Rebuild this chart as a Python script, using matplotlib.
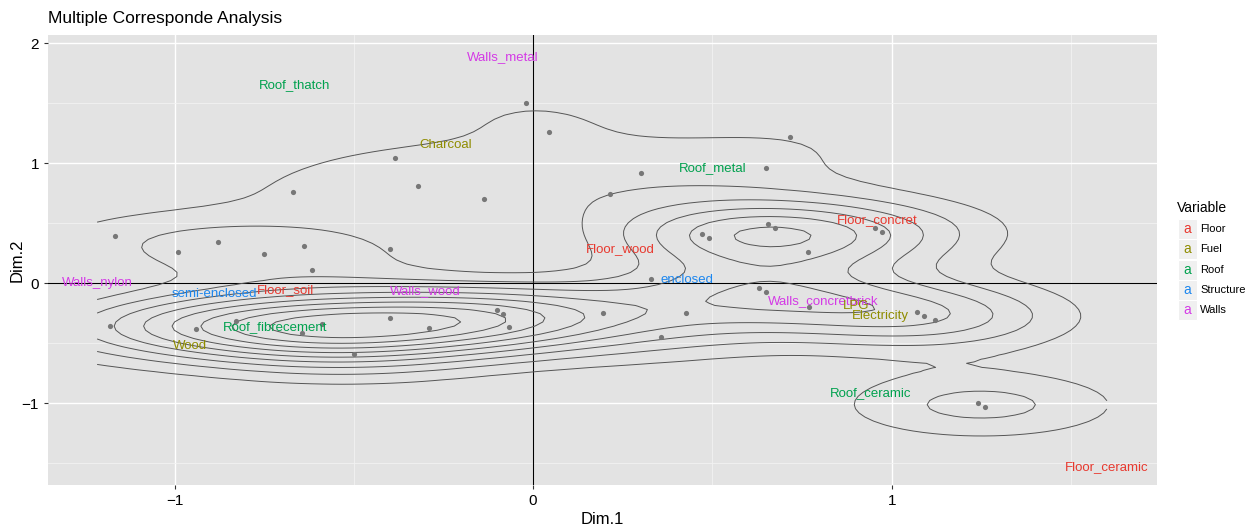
import matplotlib

matplotlib.use("Agg")

import matplotlib.pyplot as plt
import numpy as np
from matplotlib.patches import Rectangle

plt.rcParams["font.family"] = ["Liberation Sans", "DejaVu Sans"]

# individuals (MCA row coordinates); several respondents share a profile,
# so ind_count gives the estimated number stacked on each dot
ind_dim1 = [-0.02, 0.045, -0.385, -0.32, -0.67, -0.137, 0.30, 0.215, 0.65, 0.717,
            -1.166, -0.99, -0.88, -0.75, -0.64, -0.617, -0.40,
            0.47, 0.49, 0.656, 0.675, 0.767, 0.954, 0.973,
            0.33, 0.63, 0.65, 0.77, 1.07, 1.09, 1.12,
            -1.18, -0.94, -0.83, -0.645, -0.59, -0.40, -0.29, -0.50,
            -0.10, -0.084, -0.067, 0.195, 0.357, 0.427, 1.24, 1.26]
ind_dim2 = [1.50, 1.26, 1.04, 0.81, 0.76, 0.70, 0.92, 0.74, 0.96, 1.22,
            0.39, 0.26, 0.34, 0.24, 0.31, 0.11, 0.28,
            0.41, 0.375, 0.49, 0.46, 0.26, 0.46, 0.425,
            0.03, -0.04, -0.075, -0.20, -0.24, -0.275, -0.31,
            -0.36, -0.38, -0.32, -0.42, -0.34, -0.29, -0.375, -0.59,
            -0.225, -0.26, -0.37, -0.25, -0.45, -0.25, -1.00, -1.03]
ind_count = [2, 2, 2, 2, 2, 2, 2, 2, 2, 2,
             2, 2, 2, 2, 2, 2, 2,
             4, 4, 4, 4, 5, 3, 3,
             2, 4, 4, 4, 4, 4, 4,
             5, 5, 7, 7, 7, 7, 6, 4,
             5, 5, 5, 3, 3, 3, 4, 4]

# categories (MCA column coordinates)
cat_names = ["Walls_metal", "Roof_thatch", "Charcoal", "Roof_metal", "Floor_concret",
             "Floor_wood", "enclosed", "Walls_nylon", "semi-enclosed", "Floor_soil",
             "Walls_wood", "Walls_concretbrick", "LPG", "Electricity",
             "Roof_fibrecement", "Wood", "Roof_ceramic", "Floor_ceramic"]
cat_var = ["Walls", "Roof", "Fuel", "Roof", "Floor",
           "Floor", "Structure", "Walls", "Structure", "Floor",
           "Walls", "Walls", "Fuel", "Fuel",
           "Roof", "Fuel", "Roof", "Floor"]
cat_dim1 = [-0.086, -0.664, -0.245, 0.50, 0.96, 0.243, 0.43, -1.216, -0.89, -0.69,
            -0.30, 0.81, 0.90, 0.968, -0.72, -0.957, 0.94, 1.60]
cat_dim2 = [1.88, 1.65, 1.15, 0.96, 0.525, 0.283, 0.025, 0.0, -0.09, -0.058,
            -0.067, -0.15, -0.19, -0.275, -0.367, -0.525, -0.917, -1.53]

var_levels = ["Floor", "Fuel", "Roof", "Structure", "Walls"]
var_colors = {"Floor": "#E8392F", "Fuel": "#8F8C00", "Roof": "#00A14E",
              "Structure": "#1C86EE", "Walls": "#D43AE6"}


def bandwidth_nrd(v):
    q1, q3 = np.percentile(v, [25, 75])
    h = (q3 - q1) / 1.34
    return 4 * 1.06 * min(np.std(v, ddof=1), h) * len(v) ** (-0.2)


def kde2d(x, y, xlim, ylim, n=100):
    hx = bandwidth_nrd(x) / 4
    hy = bandwidth_nrd(y) / 4
    gx = np.linspace(xlim[0], xlim[1], n)
    gy = np.linspace(ylim[0], ylim[1], n)
    ax_ = (gx[:, None] - x[None, :]) / hx
    ay_ = (gy[:, None] - y[None, :]) / hy
    dx = np.exp(-0.5 * ax_ ** 2) / np.sqrt(2 * np.pi)
    dy = np.exp(-0.5 * ay_ ** 2) / np.sqrt(2 * np.pi)
    z = dx @ dy.T / (len(x) * hx * hy)
    return gx, gy, z


x = np.array(ind_dim1)
y = np.array(ind_dim2)
xr = np.repeat(x, ind_count)
yr = np.repeat(y, ind_count)
all_x = np.concatenate([x, cat_dim1])
all_y = np.concatenate([y, cat_dim2])
gx, gy, z = kde2d(xr, yr, (all_x.min(), all_x.max()), (all_y.min(), all_y.max()))
levels = np.linspace(0, z.max(), 11)[1:-1]

fig = plt.figure(figsize=(12.49, 5.26), dpi=100)
ax = fig.add_axes([48 / 1249, 41 / 526, 1109 / 1249, 450 / 526])
ax.set_facecolor("#E3E3E3")
for s in ax.spines.values():
    s.set_visible(False)

ax.set_xlim(-1.353, 1.74)
ax.set_ylim(-1.683, 2.067)
ax.set_xticks([-1, 0, 1])
ax.set_yticks([-1, 0, 1, 2])
ax.set_xticks([-0.5, 0.5, 1.5], minor=True)
ax.set_yticks([-1.5, -0.5, 0.5, 1.5], minor=True)
ax.grid(which="major", color="white", lw=1.0)
ax.grid(which="minor", color="#F2F2F2", lw=0.6)
ax.set_axisbelow(True)
ax.tick_params(which="major", length=3, color="#333333", labelsize=11, labelcolor="black")
ax.tick_params(which="minor", length=0)

ax.axhline(0, color="black", lw=0.8, zorder=2)
ax.axvline(0, color="black", lw=0.8, zorder=2)

ax.contour(gx, gy, z.T, levels=levels, colors="#555555", linewidths=0.7, zorder=3)
ax.scatter(x, y, s=14, color="#777777", zorder=4, linewidths=0)

for name, var, cx, cy in zip(cat_names, cat_var, cat_dim1, cat_dim2):
    ax.text(cx, cy, name, color=var_colors[var], fontsize=9.5, ha="center", va="center", zorder=5)

ax.set_xlabel("Dim.1", fontsize=12, va="center")
ax.xaxis.set_label_coords(0.5, -(520 - 485) / 450)
ax.set_ylabel("Dim.2", fontsize=12, va="center")
ax.yaxis.set_label_coords(-(48 - 17) / 1109, 0.5)
fig.text(48 / 1249, 1 - 19 / 526, "Multiple Corresponde Analysis", fontsize=12.5, va="center", ha="left")

# legend
fig.text(1177 / 1249, 1 - 208 / 526, "Variable", fontsize=10, va="center", ha="left")
for i, lv in enumerate(var_levels):
    yc = 229 + i * 20.3
    fig.patches.append(Rectangle((1178 / 1249, 1 - (yc + 10) / 526), 19 / 1249, 20 / 526,
                                 transform=fig.transFigure, facecolor="#F0F0F0",
                                 edgecolor="white", lw=0.8))
    fig.text(1187.5 / 1249, 1 - yc / 526, "a", color=var_colors[lv], fontsize=10, ha="center", va="center")
    fig.text(1200 / 1249, 1 - yc / 526, lv, fontsize=8, ha="left", va="center")

fig.savefig("out.png", dpi=100)
